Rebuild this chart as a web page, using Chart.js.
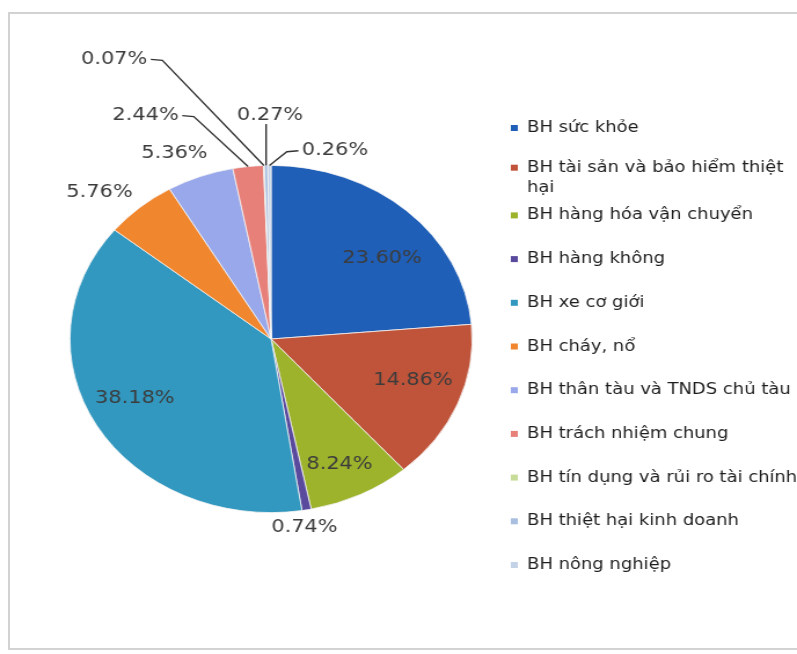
<!DOCTYPE html>
<html>
<head>
<meta charset="utf-8">
<script src="https://cdn.jsdelivr.net/npm/chart.js@4.4.0/dist/chart.umd.min.js"></script>
<style>
    html, body { margin: 0; padding: 0; background: #fff; }
    body { width: 797px; height: 654px; overflow: hidden; position: relative; }
    #frame {
        position: absolute; left: 8px; top: 12px; width: 800px; height: 638px;
        border: 2px solid #d2d2d2; box-sizing: border-box;
    }
    /* the pie is drawn as a slightly wide oval, so the canvas is stretched sideways */
    #wrap {
        position: absolute; left: 0; top: 0; width: 688px; height: 654px;
        transform: scaleX(1.1584); transform-origin: 0 0;
    }
</style>
</head>
<body>
<div id="frame"></div>
<div id="wrap"><canvas id="pie" width="688" height="654"></canvas></div>
<script>
    const categories = [
        'BH sức khỏe',
        ['BH tài sản và bảo hiểm thiệt', 'hại'],
        'BH hàng hóa vận chuyển',
        'BH hàng không',
        'BH xe cơ giới',
        'BH cháy, nổ',
        'BH thân tàu và TNDS chủ tàu',
        'BH trách nhiệm chung',
        'BH tín dụng và rủi ro tài chính',
        'BH thiệt hại kinh doanh',
        'BH nông nghiệp',
    ];
    const shares = [23.60, 14.86, 8.24, 0.74, 38.18, 5.76, 5.36, 2.44, 0.07, 0.27, 0.26];

    const sliceColors = [
        '#1f5fb8', '#c0543a', '#9db32c', '#5a4a9e', '#3298bf', '#f0862e',
        '#98a8ea', '#e8807a', '#c8dc9a', '#a8bfe0', '#c4d2e8',
    ];

    // label placement: fraction of the radius and a turn (degrees) off the slice middle
    const labelRadius = [0.72, 0.745, 0.80, 1.10, 0.76, 1.20, 1.17, 1.43, 1.79, 1.29, 1.13];
    const labelTurn = [7.5, -3.3, 1.2, 1.5, 3, -4.6, -3.6, -19.3, -23.8, 1.2, 16.8];
    const withLeader = [false, false, false, false, false, false, false, true, true, true, true];

    const LABEL_FONT = '18px "DejaVu Sans", sans-serif';
    const LEGEND_FONT = '15.5px "DejaVu Sans", sans-serif';

    const percentLabels = {
        id: 'percentLabels',
        afterDatasetsDraw(chart) {
            const ctx = chart.ctx;
            const meta = chart.getDatasetMeta(0);
            ctx.save();
            ctx.font = LABEL_FONT;
            ctx.fillStyle = '#3c3c3c';
            ctx.strokeStyle = '#333';
            ctx.lineWidth = 1.4;
            ctx.textAlign = 'center';
            ctx.textBaseline = 'middle';
            meta.data.forEach((arc, i) => {
                const { x, y, startAngle, endAngle, outerRadius } =
                    arc.getProps(['x', 'y', 'startAngle', 'endAngle', 'outerRadius'], true);
                const mid = (startAngle + endAngle) / 2;
                const a = mid + labelTurn[i] * Math.PI / 180;
                const lx = x + Math.cos(a) * outerRadius * labelRadius[i];
                const ly = y + Math.sin(a) * outerRadius * labelRadius[i];
                const text = shares[i].toFixed(2) + '%';
                ctx.fillText(text, lx, ly);

                if (!withLeader[i]) return;
                const px = x + Math.cos(mid) * outerRadius;
                const py = y + Math.sin(mid) * outerRadius;
                const half = ctx.measureText(text).width / 2;
                ctx.beginPath();
                if (lx + half + 12 < px) {
                    ctx.moveTo(lx + half + 3, ly);
                    ctx.lineTo(lx + half + 13, ly + 1);
                } else if (lx - half - 12 > px) {
                    ctx.moveTo(lx - half - 3, ly);
                    ctx.lineTo(lx - half - 13, ly + 1);
                } else {
                    ctx.moveTo(px, ly + 9);
                }
                ctx.lineTo(px, py);
                ctx.stroke();
            });
            ctx.restore();
        },
    };

    const sideLegend = {
        id: 'sideLegend',
        afterDraw(chart) {
            const ctx = chart.ctx;
            const colors = chart.data.datasets[0].backgroundColor;
            const top = 128, step = 43.7, markX = 441, textX = 455;
            ctx.save();
            ctx.font = LEGEND_FONT;
            ctx.textAlign = 'left';
            ctx.textBaseline = 'middle';
            chart.data.labels.forEach((label, i) => {
                const lines = Array.isArray(label) ? label : [label];
                const y = top + i * step - (lines.length > 1 ? 4 : 0);
                ctx.fillStyle = colors[i];
                ctx.fillRect(markX, y - 3, 6, 6);
                ctx.fillStyle = '#1e1e1e';
                lines.forEach((line, k) => ctx.fillText(line, textX, y + k * 20));
            });
            ctx.restore();
        },
    };

    new Chart(document.getElementById('pie'), {
        type: 'pie',
        data: {
            labels: categories,
            datasets: [{
                data: shares,
                backgroundColor: sliceColors,
                borderColor: '#f4f4f4',
                borderWidth: 0.8,
            }],
        },
        options: {
            responsive: false,
            animation: false,
            layout: { padding: { left: 60, right: 280, top: 165, bottom: 141 } },
            plugins: {
                legend: { display: false },
                tooltip: { enabled: false },
            },
        },
        plugins: [percentLabels, sideLegend],
    });
</script>
</body>
</html>
